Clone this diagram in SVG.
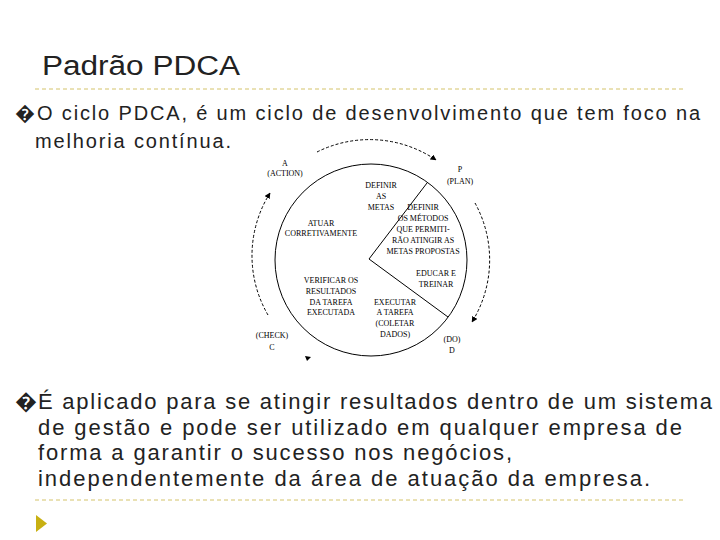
<svg xmlns="http://www.w3.org/2000/svg" width="720" height="540" viewBox="0 0 720 540">
<style>
.t{font-family:"Liberation Sans",Arial,sans-serif;fill:#222}
.s{font-family:"Liberation Serif","Times New Roman",serif;font-size:8px;fill:#000;text-anchor:middle}
.d{stroke:#d4c36a;stroke-dasharray:4,3;stroke-width:1;fill:none}
.c{stroke:#000;fill:none;stroke-width:1}
</style>
<defs><marker id="a" viewBox="0 0 10 10" refX="9" refY="5" markerWidth="6" markerHeight="6" orient="auto"><path d="M0,0L10,5L0,10z" fill="#000"/></marker></defs>
<rect width="720" height="540" fill="#fff"/>
<text class="t" x="42" y="75" font-size="27" textLength="198" lengthAdjust="spacingAndGlyphs">Padrão PDCA</text>
<line class="d" x1="35" y1="89" x2="686" y2="89"/>
<line class="d" x1="35" y1="500" x2="686" y2="500"/>
<path d="M36,515L47,523.5L36,532z" fill="#c8b012"/>
<text class="t" x="15" y="120" font-size="20">�</text>
<text class="t" x="37" y="120" font-size="20" textLength="663" lengthAdjust="spacing">O ciclo PDCA, é um ciclo de desenvolvimento que tem foco na</text>
<text class="t" x="35" y="148" font-size="20" textLength="196" lengthAdjust="spacing">melhoria contínua.</text>
<text class="t" x="15" y="409" font-size="22">�</text>
<text class="t" x="38" y="409" font-size="22" textLength="674" lengthAdjust="spacing">É aplicado para se atingir resultados dentro de um sistema</text>
<text class="t" x="38" y="435" font-size="22" textLength="644" lengthAdjust="spacing">de gestão e pode ser utilizado em qualquer empresa de</text>
<text class="t" x="38" y="460" font-size="22" textLength="474" lengthAdjust="spacing">forma a garantir o sucesso nos negócios,</text>
<text class="t" x="38" y="486" font-size="22" textLength="612" lengthAdjust="spacing">independentemente da área de atuação da empresa.</text>
<g id="connectors">
<circle class="c" cx="371" cy="260" r="96"/>
<line class="c" x1="369" y1="259" x2="427" y2="183"/>
<line class="c" x1="369" y1="259" x2="448" y2="317"/>
<path class="c" stroke-dasharray="3,2" d="M317,152A118,118 0 0 1 436,160" marker-end="url(#a)"/>
<path class="c" stroke-dasharray="3,2" d="M475,203A118,118 0 0 1 472,322" marker-end="url(#a)"/>
<path class="c" stroke-dasharray="3,2" d="M268,315A118,118 0 0 1 270,193" marker-end="url(#a)"/>
<path d="M305,356L311,357L307,361z" fill="#000"/>
</g>
<g id="labels">
<text class="s" x="285" y="166">A</text><text class="s" x="285" y="176">(ACTION)</text>
<text class="s" x="460" y="172">P</text><text class="s" x="460" y="184">(PLAN)</text>
<text class="s" x="272" y="338">(CHECK)</text><text class="s" x="272" y="350">C</text>
<text class="s" x="452" y="342">(DO)</text><text class="s" x="452" y="353">D</text>
<text class="s" x="381" y="188">DEFINIR</text><text class="s" x="381" y="199">AS</text><text class="s" x="381" y="210">METAS</text>
<text class="s" x="423" y="210">DEFINIR</text><text class="s" x="423" y="221">OS MÉTODOS</text><text class="s" x="423" y="232">QUE PERMITI-</text><text class="s" x="423" y="243">RÃO ATINGIR AS</text><text class="s" x="423" y="254">METAS PROPOSTAS</text>
<text class="s" x="321" y="226">ATUAR</text><text class="s" x="321" y="236">CORRETIVAMENTE</text>
<text class="s" x="436" y="276">EDUCAR E</text><text class="s" x="436" y="287">TREINAR</text>
<text class="s" x="331" y="283">VERIFICAR OS</text><text class="s" x="331" y="294">RESULTADOS</text><text class="s" x="331" y="305">DA TAREFA</text><text class="s" x="331" y="315">EXECUTADA</text>
<text class="s" x="395" y="305">EXECUTAR</text><text class="s" x="395" y="315">A TAREFA</text><text class="s" x="395" y="326">(COLETAR</text><text class="s" x="395" y="337">DADOS)</text>
</g>
</svg>
